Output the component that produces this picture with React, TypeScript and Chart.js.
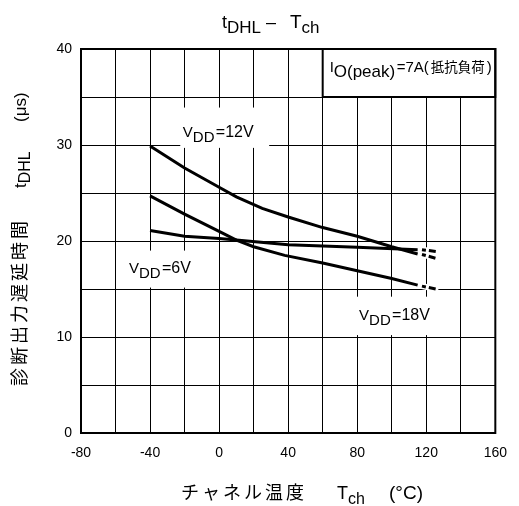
import React, { useEffect, useRef } from 'react';
import { Chart, registerables } from 'chart.js';
Chart.register(...registerables);

// ---- data ----
const tempsVdd12 = [-40, -20, 0, 10, 25, 40, 60, 80, 100, 115];
const tdhlVdd12 = [29.9, 27.6, 25.6, 24.6, 23.4, 22.5, 21.4, 20.5, 19.4, 18.65];
const tempsVdd18 = [-40, -20, 0, 10, 20, 38, 60, 80, 100, 115];
const tdhlVdd18 = [24.7, 22.8, 21.0, 20.1, 19.4, 18.5, 17.7, 16.9, 16.1, 15.4];
const tempsVdd6 = [-40, -20, 0, 10, 40, 80, 115];
const tdhlVdd6 = [21.1, 20.5, 20.25, 20.1, 19.6, 19.35, 19.1];
// dashed extrapolated ends
const extTemps = [117.5, 125.5];
const extVdd12 = [18.6, 18.2];
const extVdd6 = [19.1, 18.9];
const extVdd18 = [15.3, 15.0];

const xTickLabels = [-80, -40, 0, 40, 80, 120, 160];
const yTickLabels = [0, 10, 20, 30, 40];

const FAMILY = '"Liberation Sans", Arial, "Noto Sans CJK JP", sans-serif';

type Seg = { t: string; size: number; dy?: number; ls?: number; at?: number };

function drawRich(ctx: CanvasRenderingContext2D, x0: number, y0: number, segs: Seg[]) {
  let x = x0;
  for (const s of segs) {
    if (s.at !== undefined) x = x0 + s.at;
    ctx.font = `${s.size}px ${FAMILY}`;
    (ctx as any).letterSpacing = `${s.ls || 0}px`;
    ctx.textAlign = 'left';
    ctx.textBaseline = 'alphabetic';
    ctx.fillText(s.t, x, y0 + (s.dy || 0));
    x += ctx.measureText(s.t).width;
  }
  (ctx as any).letterSpacing = '0px';
}

// annotation placement (data coordinates)
const curveLabels = [
  { x: -21, y: 30.86, box: [-22.5, 33.9, 29, 29.7], segs: [{ t: 'V', size: 15 }, { t: 'DD', size: 15, dy: 5, at: 10 }, { t: '=12V', size: 16, at: 33 }] },
  { x: -52.2, y: 16.67, box: [-55, 19.0, -14.5, 15.15], segs: [{ t: 'V', size: 15 }, { t: 'DD', size: 15, dy: 5, at: 10 }, { t: '=6V', size: 16, at: 33 }] },
  { x: 81.1, y: 11.77, box: [78.5, 14.2, 126.5, 10.2], segs: [{ t: 'V', size: 15 }, { t: 'DD', size: 15, dy: 5, at: 10 }, { t: '=18V', size: 16, at: 33 }] },
];
const condBox = { box: [60, 40, 160, 35], x: 64.1, y: 37.64 };

const pts = (xs: number[], ys: number[]) => xs.map((x, i) => ({ x, y: ys[i] }));

export default function App() {
  const ref = useRef<HTMLCanvasElement>(null);
  useEffect(() => {
    document.body.style.margin = '0';
    const canvas = ref.current!;
    const solid = (data: any) => ({ data, borderColor: '#000', borderWidth: 3, pointRadius: 0, fill: false, tension: 0 });
    const dashed = (data: any) => ({ data, borderColor: '#000', borderWidth: 3, pointRadius: 0, fill: false, borderDash: [4, 3, 7, 3], borderCapStyle: 'butt' });
    const under = (data: any) => ({ data: [{ x: 115.8, y: data[0].y }, ...data, { x: 127, y: data[data.length - 1].y }], borderColor: '#fff', borderWidth: 6, pointRadius: 0, fill: false });

    const annot = {
      id: 'annot',
      beforeDatasetsDraw(chart: any) {
        const ctx = chart.ctx as CanvasRenderingContext2D;
        const xs = chart.scales.x, ys = chart.scales.y;
        ctx.save();
        for (const l of curveLabels) {
          const [x1, y1, x2, y2] = l.box;
          const px1 = xs.getPixelForValue(x1), px2 = xs.getPixelForValue(x2);
          const py1 = ys.getPixelForValue(y1), py2 = ys.getPixelForValue(y2);
          ctx.fillStyle = '#fff';
          ctx.fillRect(px1, py1, px2 - px1, py2 - py1);
          ctx.fillStyle = '#000';
          drawRich(ctx, xs.getPixelForValue(l.x), ys.getPixelForValue(l.y), l.segs);
        }
        // condition box
        const [bx1, by1, bx2, by2] = condBox.box;
        const qx1 = xs.getPixelForValue(bx1), qx2 = xs.getPixelForValue(bx2);
        const qy1 = ys.getPixelForValue(by1), qy2 = ys.getPixelForValue(by2);
        ctx.fillStyle = '#fff';
        ctx.fillRect(qx1, qy1, qx2 - qx1, qy2 - qy1);
        ctx.strokeStyle = '#000';
        ctx.lineWidth = 2;
        ctx.strokeRect(qx1, qy1, qx2 - qx1, qy2 - qy1);
        ctx.fillStyle = '#000';
        drawRich(ctx, xs.getPixelForValue(condBox.x), ys.getPixelForValue(condBox.y), [
          { t: 'I', size: 15 },
          { t: 'O(peak)', size: 17, dy: 5, at: 4 },
          { t: '=7A(', size: 15, at: 67 },
          { t: '抵抗負荷', size: 13.5, at: 101 },
          { t: ')', size: 15, at: 157 },
        ]);
        ctx.restore();
      },
      afterDraw(chart: any) {
        const ctx = chart.ctx as CanvasRenderingContext2D;
        const a = chart.chartArea;
        ctx.save();
        ctx.strokeStyle = '#000';
        ctx.lineWidth = 2;
        ctx.strokeRect(a.left, a.top, a.right - a.left, a.bottom - a.top);
        ctx.fillStyle = '#000';
        // title
        drawRich(ctx, 222, 28, [
          { t: 't', size: 18 },
          { t: 'DHL', size: 17, dy: 5 },
          { t: '–', size: 18, at: 44 },
          { t: 'T', size: 19, at: 68 },
          { t: 'ch', size: 17, dy: 5 },
        ]);
        // x axis title
        drawRich(ctx, 181, 499, [
          { t: 'チャネル温度', size: 18, ls: 3 },
          { t: 'T', size: 18, at: 156 },
          { t: 'ch', size: 16, dy: 5 },
          { t: '(°C)', size: 19, at: 208 },
        ]);
        // y axis title (rotated)
        ctx.translate(26, 386);
        ctx.rotate(-Math.PI / 2);
        drawRich(ctx, 0, 0, [
          { t: '診断出力遅延時間', size: 18, ls: 3 },
          { t: 't', size: 17, at: 198 },
          { t: 'DHL', size: 16, dy: 4 },
          { t: '(μs)', size: 17, at: 264 },
        ]);
        ctx.restore();
      },
    };

    const chart = new Chart(canvas, {
      type: 'line',
      data: {
        datasets: [
          solid(pts(tempsVdd12, tdhlVdd12)),
          solid(pts(tempsVdd18, tdhlVdd18)),
          solid(pts(tempsVdd6, tdhlVdd6)),
          dashed(pts(extTemps, extVdd12)),
          dashed(pts(extTemps, extVdd6)),
          dashed(pts(extTemps, extVdd18)),
          under(pts(extTemps, extVdd12)),
          under(pts(extTemps, extVdd6)),
          under(pts(extTemps, extVdd18)),
        ] as any,
      },
      options: {
        animation: false,
        responsive: false,
        events: [],
        layout: { padding: { top: 49, right: 15, left: 0, bottom: 0 } },
        plugins: { legend: { display: false }, tooltip: { enabled: false }, title: { display: false } },
        scales: {
          x: {
            type: 'linear',
            min: -80,
            max: 160,
            afterFit: (s: any) => { s.height = 73; },
            ticks: {
              stepSize: 20,
              autoSkip: false,
              maxRotation: 0,
              padding: 12,
              color: '#000',
              font: { size: 14, family: FAMILY },
              callback: (v: any) => (xTickLabels.includes(Number(v)) ? String(v) : ''),
            },
            grid: { color: '#000', lineWidth: 1, drawTicks: false },
            border: { display: false },
          },
          y: {
            type: 'linear',
            min: 0,
            max: 40,
            afterFit: (s: any) => { s.width = 81; },
            ticks: {
              stepSize: 5,
              autoSkip: false,
              padding: 9,
              color: '#000',
              font: { size: 14, family: FAMILY },
              callback: (v: any) => (yTickLabels.includes(Number(v)) ? String(v) : ''),
            },
            grid: { color: '#000', lineWidth: 1, drawTicks: false },
            border: { display: false },
          },
        },
      } as any,
      plugins: [annot],
    });
    return () => chart.destroy();
  }, []);
  return <canvas ref={ref} width={519} height={506} style={{ display: 'block' }} />;
}
